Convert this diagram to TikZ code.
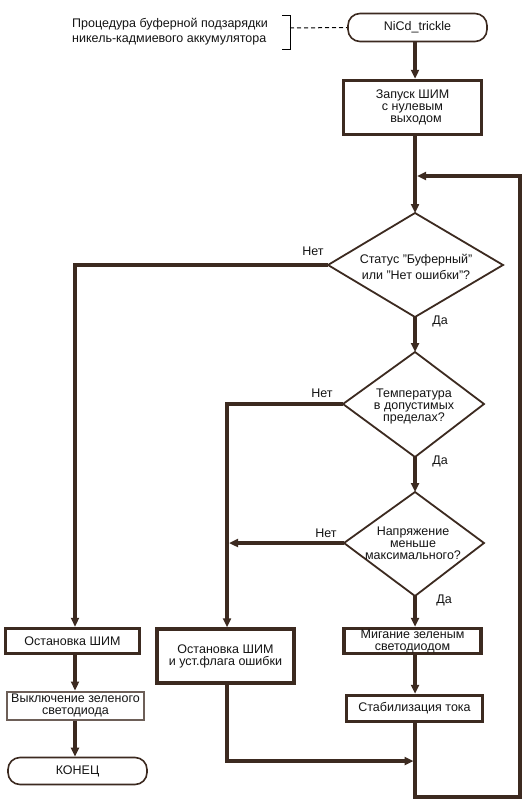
\documentclass[tikz,border=0pt]{standalone}
\usepackage{fontspec}
\setmainfont{Liberation Sans}
\usetikzlibrary{arrows.meta}
\definecolor{ln}{RGB}{60,42,32}
\definecolor{tx}{RGB}{20,20,20}
\begin{document}
\begin{tikzpicture}[x=1pt,y=-1pt,
  conn/.style={draw=ln, line width=3.5pt},
  arr/.style={conn,-{Triangle[length=9pt,width=8pt]}},
  fnt/.style={font=\fontsize{12.5}{12}\selectfont, text=tx},
  proc/.style={draw=ln, line width=3.5pt, inner sep=0pt, align=center, fnt},
  thinproc/.style={draw=ln!75, line width=2pt, inner sep=0pt, align=center, fnt},
  term/.style={draw=ln, line width=1.6pt, rounded corners=12pt, inner sep=0pt, fnt},
  txt/.style={align=center, inner sep=0pt, fnt},
  lbl/.style={inner sep=0pt, fnt},
  dia/.style={draw=ln, line width=1.8pt, line join=miter}
]
\useasboundingbox[fill=white] (0,0) rectangle (532,803);

% column coordinates
\coordinate (main) at (415,0);
\coordinate (colL) at (75,0);
\coordinate (colM) at (227,0);
\coordinate (colMedge) at (229,0);

% annotation
\node[lbl, align=left, anchor=west, font=\fontsize{12.5}{15}\selectfont] (ann) at (72,31.5)
  {Процедура буферной подзарядки\\никель-кадмиевого аккумулятора};
\draw[black, line width=1pt] (282,15) -- (290,15) -- (290,49) -- (282,49);
\coordinate (brk) at (290,28);

% start
\node[term, minimum width=139pt, minimum height=28pt] (start) at (417.5,27.5) {NiCd\_trickle};
\draw[black, line width=1pt, dash pattern=on 4pt off 3pt] (brk) -- (start.west);

% first process
\node[proc, minimum width=138pt, minimum height=54pt] (b1) at (412.5,107.5)
  {Запуск ШИМ\\с нулевым\\\ \ выходом};

% diamonds
\coordinate (d1n) at (415,213); \coordinate (d1e) at (503,265);
\coordinate (d1s) at (415,317); \coordinate (d1w) at (328,265);
\draw[dia] (d1n)--(d1e)--(d1s)--(d1w)--cycle;
\node[txt, font=\fontsize{12.5}{16}\selectfont] (d1t) at (416,267)
  {Статус "Буферный"\\или "Нет ошибки"?};

\coordinate (d2n) at (415,352); \coordinate (d2e) at (484,404);
\coordinate (d2s) at (415,457); \coordinate (d2w) at (343,404);
\draw[dia] (d2n)--(d2e)--(d2s)--(d2w)--cycle;
\node[txt] (d2t) at (414,406) {Температура\\в допустимых\\пределах?};

\coordinate (d3n) at (415,492); \coordinate (d3e) at (484,543);
\coordinate (d3s) at (415,596); \coordinate (d3w) at (344,543);
\draw[dia] (d3n)--(d3e)--(d3s)--(d3w)--cycle;
\node[txt] (d3t) at (413,543) {Напряжение\\меньше\\максимального?};

% labels
\node[lbl] (n1) at (313,251) {Нет};
\node[lbl] (n2) at (322,393) {Нет};
\node[lbl] (n3) at (326,533) {Нет};
\node[lbl] (y1) at (440,321) {Да};
\node[lbl] (y2) at (440,461) {Да};
\node[lbl] (y3) at (444,600) {Да};

% bottom boxes
\node[proc, minimum width=134pt, minimum height=25pt] (ostL) at (72.5,641) {Остановка ШИМ};
\node[thinproc, minimum width=137pt, minimum height=28pt] (vykl) at (75.5,705.5)
  {Выключение зеленого\\светодиода};
\node[term, minimum width=139pt, minimum height=27pt] (fin) at (77.5,771) {КОНЕЦ};
\node[proc, minimum width=137pt, minimum height=54pt] (ostM) at (225.5,656)
  {Остановка ШИМ\\и уст.флага ошибки};
\node[proc, minimum width=137pt, minimum height=25pt] (mig) at (412.5,641)
  {Мигание зеленым\\светодиодом};
\node[proc, minimum width=136pt, minimum height=26pt] (stab) at (414.5,708.5) {Стабилизация тока};

% loop coordinates
\coordinate (botL) at (415,797);
\coordinate (botR) at (520,797);
\coordinate (topR) at (520,176);
\coordinate (loopin) at (417,176);
\coordinate (merge) at (413.5,761);

% connectors
\draw[arr] (start.south -| main) -- (b1.north -| main);
\draw[arr] (b1.south -| main) -- (d1n);
\draw[arr] (stab.south -| main) -- (botL) -- (botR) -- (topR) -- (loopin);
\draw[arr] (d1w) -| (ostL.north -| colL);
\draw[arr] (d1s) -- (d2n);
\draw[arr] (d2w) -| (ostM.north -| colM);
\draw[arr] (d2s) -- (d3n);
\draw[arr] (d3w) -- (d3w -| colMedge);
\draw[arr] (d3s) -- (mig.north -| main);
\draw[arr] (mig.south -| main) -- (stab.north -| main);
\draw[arr] (ostM.south -| colM) |- (merge);
\draw[arr] (ostL.south -| colL) -- (vykl.north -| colL);
\draw[arr] (vykl.south -| colL) -- (fin.north -| colL);
\end{tikzpicture}
\end{document}
